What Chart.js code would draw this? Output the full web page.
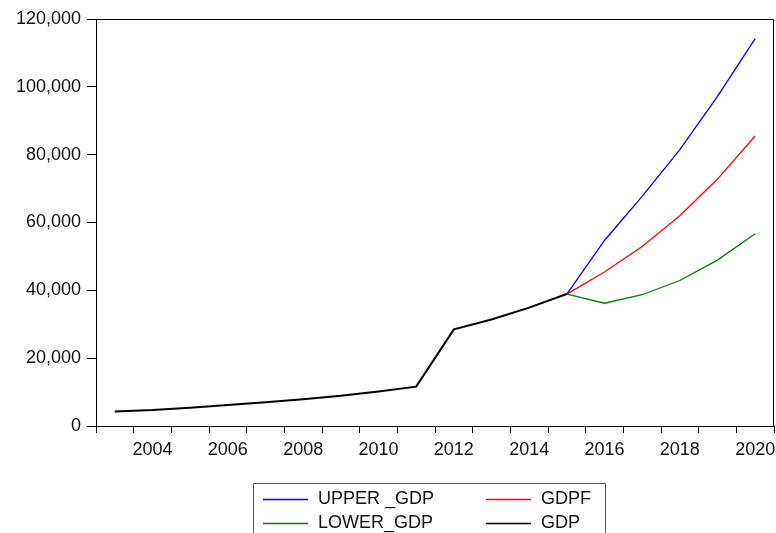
<!DOCTYPE html>
<html>
<head>
<meta charset="utf-8">
<script src="https://cdn.jsdelivr.net/npm/chart.js@4/dist/chart.umd.min.js"></script>
<style>
  html, body { margin: 0; padding: 0; background: #fff; }
  #wrap { position: relative; width: 776px; height: 533px; }
</style>
</head>
<body>
<div id="wrap"><canvas id="c" width="776" height="533"></canvas></div>
<script>
// ---- Data ----
const years = ['2003','2004','2005','2006','2007','2008','2009','2010','2011','2012','2013','2014','2015','2016','2017','2018','2019','2020'];
const gdp      = [4300, 4700, 5400, 6200, 7000, 7900, 8900, 10200, 11600, 28500, 31400, 34900, 38900, null, null, null, null, null];
const upperGdp = [null, null, null, null, null, null, null, null, null, null, null, null, 38900, 54700, 67700, 81500, 97200, 114200];
const gdpf     = [null, null, null, null, null, null, null, null, null, null, null, null, 38900, 45400, 52900, 62000, 72800, 85500];
const lowerGdp = [null, null, null, null, null, null, null, null, null, null, null, null, 38900, 36200, 38700, 42900, 48900, 56700];
const seriesNames  = ['UPPER _GDP', 'GDPF', 'LOWER_GDP', 'GDP'];
const seriesColors = ['#0000FF', '#FF0000', '#008000', '#000000'];
const yTicks = [0, 20000, 40000, 60000, 80000, 100000, 120000];

const FONT = '"Liberation Sans", Arial, sans-serif';
const TXT = '#111';

const frameAndLegend = {
  id: 'frameAndLegend',
  afterDraw(chart) {
    const ctx = chart.ctx;
    const a = chart.chartArea;
    ctx.save();
    // frame top + right
    ctx.strokeStyle = '#000';
    ctx.lineWidth = 1;
    ctx.beginPath();
    ctx.moveTo(Math.round(a.left) + 0.5, Math.round(a.top) + 0.5);
    ctx.lineTo(Math.round(a.right) - 0.5, Math.round(a.top) + 0.5);
    ctx.lineTo(Math.round(a.right) - 0.5, Math.round(a.bottom));
    ctx.stroke();

    // legend box (bottom is cut off by the canvas edge)
    ctx.strokeStyle = '#555';
    ctx.beginPath();
    ctx.moveTo(253.5, 540);
    ctx.lineTo(253.5, 483.5);
    ctx.lineTo(605.5, 483.5);
    ctx.lineTo(605.5, 540);
    ctx.stroke();

    const pos = [
      { x: 263, y: 499 },
      { x: 486, y: 499 },
      { x: 263, y: 523 },
      { x: 486, y: 523 }
    ];
    ctx.font = '18px ' + FONT;
    ctx.textBaseline = 'middle';
    ctx.textAlign = 'left';
    seriesNames.forEach((name, i) => {
      const p = pos[i];
      ctx.strokeStyle = seriesColors[i];
      ctx.lineWidth = 1.5;
      ctx.beginPath();
      ctx.moveTo(p.x, p.y + 0.5);
      ctx.lineTo(p.x + 45, p.y + 0.5);
      ctx.stroke();
      ctx.fillStyle = TXT;
      ctx.fillText(name, p.x + 55, p.y);
    });
    ctx.restore();
  }
};

new Chart(document.getElementById('c'), {
  type: 'line',
  data: {
    labels: years,
    datasets: [
      { label: seriesNames[3], data: gdp, borderColor: seriesColors[3], borderWidth: 2, order: 0 },
      { label: seriesNames[0], data: upperGdp, borderColor: seriesColors[0], borderWidth: 1.3, order: 1 },
      { label: seriesNames[1], data: gdpf, borderColor: seriesColors[1], borderWidth: 1.3, order: 2 },
      { label: seriesNames[2], data: lowerGdp, borderColor: seriesColors[2], borderWidth: 1.3, order: 3 }
    ]
  },
  options: {
    responsive: false,
    animation: false,
    events: [],
    layout: { padding: { top: 19, right: 2, left: 0, bottom: 0 } },
    elements: { point: { radius: 0 }, line: { tension: 0, fill: false } },
    plugins: { legend: { display: false }, tooltip: { enabled: false } },
    scales: {
      x: {
        type: 'category',
        offset: true,
        grid: { offset: true, drawOnChartArea: false, drawTicks: true, tickLength: 7, color: '#000', lineWidth: 1 },
        border: { display: true, color: '#000', width: 1 },
        ticks: {
          autoSkip: false, maxRotation: 0, minRotation: 0, padding: 6,
          color: TXT, font: { family: FONT, size: 18 },
          callback: function (v, i) { const l = years[i]; return (parseInt(l) % 2 === 0) ? l : ''; }
        },
        afterFit: s => { s.height = 107; s.paddingLeft = 0; s.paddingRight = 0; }
      },
      y: {
        min: 0, max: 120000,
        afterBuildTicks: s => { s.ticks = yTicks.map(v => ({ value: v })); },
        grid: { drawOnChartArea: false, drawTicks: true, tickLength: 9, color: '#000', lineWidth: 1 },
        border: { display: true, color: '#000', width: 1 },
        ticks: {
          padding: 6, color: TXT, font: { family: FONT, size: 18 },
          callback: v => v.toLocaleString('en-US')
        },
        afterFit: s => { s.width = 96; s.paddingTop = 0; s.paddingBottom = 0; }
      }
    }
  },
  plugins: [frameAndLegend]
});
</script>
</body>
</html>
